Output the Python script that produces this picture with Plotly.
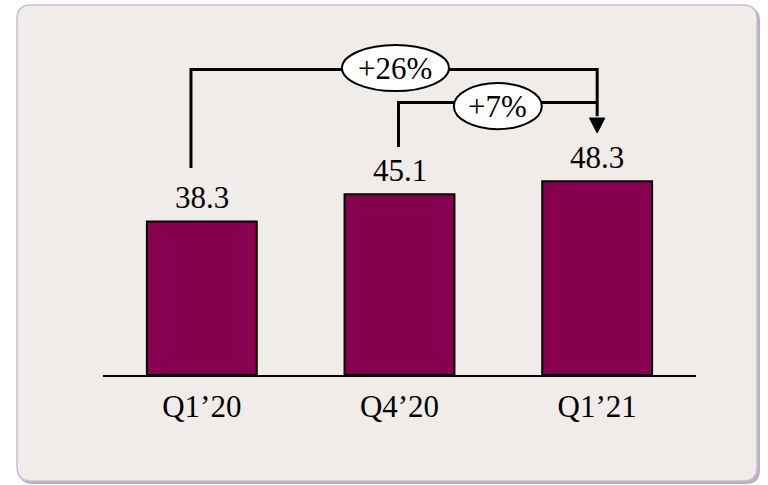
import plotly.graph_objects as go

# ---- data ----
categories = ["Q1’20", "Q4’20", "Q1’21"]
values = [38.3, 45.1, 48.3]
value_labels = ["38.3", "45.1", "48.3"]
growth_labels = ["+26%", "+7%"]

# ---- geometry ----
W, H = 768, 485
AX_X0, AX_X1 = 103, 696          # x-axis pixel span
BASE_PX = 375                    # baseline pixel row
PX_PER_UNIT = 4.01
Y_MAX = BASE_PX / PX_PER_UNIT

FONT = "Liberation Serif, Times New Roman, serif"
BAR_COLOR = "#86004f"
FS = 31


def px(x):
    return x / W


def py(y):
    return 1 - y / H


fig = go.Figure()
fig.add_trace(go.Bar(
    x=categories, y=values, width=0.556,
    marker=dict(color=BAR_COLOR, line=dict(color="black", width=2)),
    hoverinfo="skip",
))

# rounded panel with shadow
def rounded(x0, y0, x1, y1, r):
    return (f"M {px(x0+r)},{py(y0)} L {px(x1-r)},{py(y0)} Q {px(x1)},{py(y0)} {px(x1)},{py(y0+r)} "
            f"L {px(x1)},{py(y1-r)} Q {px(x1)},{py(y1)} {px(x1-r)},{py(y1)} "
            f"L {px(x0+r)},{py(y1)} Q {px(x0)},{py(y1)} {px(x0)},{py(y1-r)} "
            f"L {px(x0)},{py(y0+r)} Q {px(x0)},{py(y0)} {px(x0+r)},{py(y0)} Z")

shapes = [
    dict(type="path", xref="paper", yref="paper", path=rounded(19, 7, 760, 484, 14),
         fillcolor="#b9b1c2", line=dict(width=0), layer="below"),
    dict(type="path", xref="paper", yref="paper", path=rounded(17, 5, 757, 481, 14),
         fillcolor="#f0ece9", line=dict(color="#c6bdd3", width=1.5), layer="below"),
]

# growth arrows (data coordinates)
lw = dict(color="black", width=3)
x_from1, x_from2, x_to = -0.055, 0.995, 2.0
y_h1, y_h2 = 76.18, 67.96
e1 = dict(x0=0.709, x1=1.250, y0=70.8, y1=82.3)
e2 = dict(x0=1.275, x1=1.720, y0=61.3, y1=72.8)
shapes += [
    dict(type="path", xref="x", yref="y",
         path=f"M {x_from1},51.62 L {x_from1},{y_h1} L {x_to},{y_h1} L {x_to},64.5", line=lw),
    dict(type="path", xref="x", yref="y",
         path=f"M {x_from2},56.86 L {x_from2},{y_h2} L {x_to},{y_h2}", line=lw),
    dict(type="path", xref="x", yref="y",
         path=f"M {x_to-0.039},64.09 L {x_to+0.039},64.09 L {x_to},60.35 Z",
         fillcolor="black", line=dict(color="black", width=1)),
    dict(type="circle", xref="x", yref="y", **e1,
         fillcolor="white", line=dict(color="black", width=2)),
    dict(type="circle", xref="x", yref="y", **e2,
         fillcolor="white", line=dict(color="black", width=2)),
]

annotations = []
for i, (v, t) in enumerate(zip(values, value_labels)):
    annotations.append(dict(x=i, y=v, xref="x", yref="y", text=t, showarrow=False,
                            yanchor="bottom", yshift=4,
                            font=dict(family=FONT, size=FS, color="black")))
for e, t in zip([e1, e2], growth_labels):
    annotations.append(dict(x=(e["x0"] + e["x1"]) / 2, y=(e["y0"] + e["y1"]) / 2,
                            xref="x", yref="y", text=t, showarrow=False,
                            font=dict(family=FONT, size=FS, color="black")))

fig.update_layout(
    width=W, height=H,
    margin=dict(l=0, r=0, t=0, b=0),
    paper_bgcolor="white", plot_bgcolor="rgba(0,0,0,0)",
    showlegend=False,
    shapes=shapes, annotations=annotations,
    xaxis=dict(domain=[px(AX_X0), px(AX_X1)], range=[-0.5, 2.5],
               showline=True, linecolor="black", linewidth=2,
               showgrid=False, zeroline=False, ticks="",
               tickfont=dict(family=FONT, size=FS, color="black"),
               ticklabelstandoff=3),
    yaxis=dict(domain=[py(BASE_PX), 1], range=[0, Y_MAX], visible=False),
)

fig.write_html("out.html")
